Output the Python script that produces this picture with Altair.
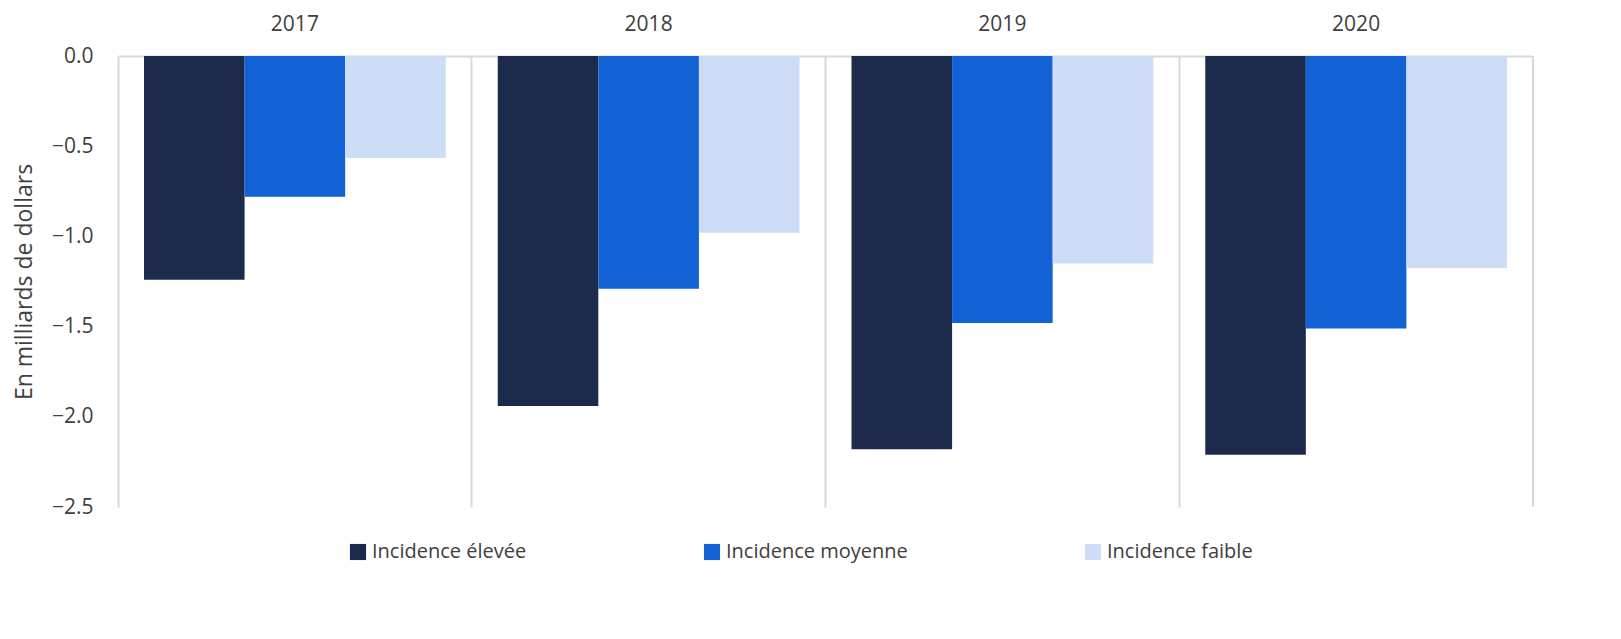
import altair as alt
import pandas as pd

years = ["2017", "2018", "2019", "2020"]
series = ["Incidence élevée", "Incidence moyenne", "Incidence faible"]
eleve = [-1.24, -1.94, -2.18, -2.21]
moyen = [-0.78, -1.29, -1.48, -1.51]
faible = [-0.565, -0.98, -1.15, -1.175]
colors = ["#1c2b4b", "#1262d6", "#cdddf7"]

rows = []
for vals, s in zip([eleve, moyen, faible], series):
    for y, v in zip(years, vals):
        rows.append({"year": y, "serie": s, "value": v})
df = pd.DataFrame(rows)

W, H = 1415, 451

bars = alt.Chart(df).mark_bar().encode(
    x=alt.X("year:N", sort=years, title=None,
            scale=alt.Scale(paddingInner=0.147, paddingOuter=0.0735),
            axis=alt.Axis(orient="top", ticks=False, grid=True, bandPosition=-0.086,
                          gridColor="#d9d9d9", gridWidth=2, domainColor="#d9d9d9",
                          domainWidth=2, labelFontSize=21, labelColor="#404040",
                          labelPadding=22, labelAngle=0)),
    xOffset=alt.XOffset("serie:N", sort=series, scale=alt.Scale(paddingInner=0, paddingOuter=0)),
    y=alt.Y("value:Q", scale=alt.Scale(domain=[-2.5, 0]), title="En milliards de dollars",
            axis=alt.Axis(values=[0, -0.5, -1, -1.5, -2, -2.5], format=".1f", ticks=False,
                          domain=False, grid=False, labelFontSize=21, labelColor="#404040",
                          labelPadding=25, titleFontSize=23, titleFontWeight="normal",
                          titleColor="#404040", titlePadding=15)),
    color=alt.Color("serie:N", sort=series, scale=alt.Scale(domain=series, range=colors),
                    legend=alt.Legend(title=None, orient="none", direction="horizontal",
                                      legendX=230, legendY=H + 35, labelLimit=300,
                                      symbolType="square", symbolSize=260, symbolStrokeWidth=0,
                                      labelFontSize=20, labelColor="#404040",
                                      columnPadding=175)),
)

edge = alt.Chart(df).mark_rule(color="#d9d9d9", strokeWidth=2).encode(
    x=alt.value(W), y=alt.value(0), y2=alt.value(H)
)

chart = (bars + edge).properties(width=W, height=H).configure(
    font="Open Sans"
).configure_view(stroke=None)
chart.save("out.html", embed_options={"renderer": "svg", "actions": False})
